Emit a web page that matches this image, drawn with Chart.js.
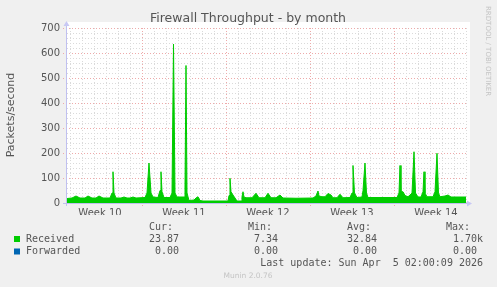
<!DOCTYPE html>
<html>
<head>
<meta charset="utf-8">
<script src="https://cdn.jsdelivr.net/npm/chart.js@4.4.1/dist/chart.umd.min.js"></script>
<style>
  html, body { margin: 0; padding: 0; background: #f0f0f0; }
  canvas { display: block; }
</style>
</head>
<body>
<canvas id="fw" width="497" height="287"></canvas>
<script>
// sample positions in days from left edge of the graph, and packets/second
const sampleDay = [0, 0.417, 0.75, 1.083, 1.5, 1.75, 2.083, 2.417, 2.667, 3, 3.583, 3.75, 3.833, 3.917, 4.083,
  4.5, 4.75, 5, 5.25, 5.5, 5.75, 6.5, 6.667, 6.833, 7, 7.167, 7.583, 7.75, 7.833, 7.917, 8.083, 8.583, 8.75,
  8.875, 9, 9.167, 9.75, 9.833, 9.917, 10, 10.167, 10.583, 10.75, 10.917, 11.083, 11.333, 13.417, 13.5, 13.583,
  13.667, 13.833, 14, 14.167, 14.5, 14.583, 14.667, 14.75, 14.917, 15.417, 15.75, 16, 16.5, 16.75, 17, 17.417,
  17.75, 18, 19.083, 20.5, 20.75, 20.917, 21, 21.25, 21.5, 21.75, 22, 22.167, 22.5, 22.75, 23, 23.583, 23.75,
  23.833, 23.958, 24.167, 24.583, 24.667, 24.833, 24.958, 25.083, 26.5, 27.5, 27.667, 27.75, 27.833, 28, 28.167,
  28.417, 28.583, 28.75, 28.917, 29.042, 29.25, 29.5, 29.667, 29.75, 29.833, 30, 30.5, 30.667, 30.833, 30.958,
  31.083, 31.5, 31.75, 32, 33.25];
const received = [18, 20, 28, 20, 20, 28, 20, 20, 28, 20, 20, 40, 125, 40, 20,
  20, 24, 20, 20, 24, 20, 22, 40, 160, 40, 24, 22, 50, 125, 45, 22, 22, 40,
  636, 40, 24, 24, 60, 550, 40, 10, 12, 20, 25, 10, 8, 8, 30, 99,
  45, 32, 20, 8, 8, 25, 45, 24, 21, 21, 39, 21, 21, 39, 21, 21,
  32, 20, 19, 20, 28, 48, 28, 25, 25, 38, 32, 21, 21, 35, 21, 22, 40,
  150, 40, 22, 24, 50, 160, 40, 22, 22, 22, 40, 150, 45, 45, 30,
  25, 32, 40, 205, 40, 24, 24, 45, 125, 40, 25, 25, 45, 199, 40,
  25, 28, 32, 24, 24];
const forwardedDay = [0, 33.25];
const forwarded = [0, 0];

const weekLabels = ['Week 10', 'Week 11', 'Week 12', 'Week 13', 'Week 14'];
const weekCenters = [2.75, 9.75, 16.75, 23.75, 30.75];
const weekStarts = [6.25, 13.25, 20.25, 27.25];
const yTicks = [0, 100, 200, 300, 400, 500, 600, 700];

const legendRows = [
  { name: 'Received', color: '#00cc00', cur: '23.87', min: '7.34', avg: '32.84', max: '1.70k' },
  { name: 'Forwarded', color: '#0066b3', cur: '0.00', min: '0.00', avg: '0.00', max: '0.00 ' }
];

const SANS = '"DejaVu Sans", Verdana, sans-serif';
const MONO = '"DejaVu Sans Mono", monospace';

// white plot background + munin style dotted grid
const gridPlugin = {
  id: 'muninGrid',
  beforeDatasetsDraw(chart) {
    const { ctx, chartArea: a, scales: { x, y } } = chart;
    ctx.save();
    ctx.lineWidth = 1;
    // minor horizontals every 20
    ctx.strokeStyle = '#dadada';
    ctx.setLineDash([1, 2]);
    for (let v = 20; v <= 700; v += 20) {
      if (v % 100 === 0) continue;
      const py = Math.round(y.getPixelForValue(v)) + 0.5;
      ctx.beginPath(); ctx.moveTo(a.left, py); ctx.lineTo(a.right, py); ctx.stroke();
    }
    // minor verticals every day
    for (let d = 0.25; d <= 33.25; d += 1) {
      const px = Math.round(x.getPixelForValue(d)) + 0.5;
      ctx.beginPath(); ctx.moveTo(px, a.top); ctx.lineTo(px, a.bottom + 2); ctx.stroke();
    }
    // major lines
    ctx.strokeStyle = '#eeaaaa';
    ctx.setLineDash([1, 2]);
    yTicks.forEach(v => {
      if (v === 0) return;
      const py = Math.round(y.getPixelForValue(v)) + 0.5;
      ctx.beginPath(); ctx.moveTo(a.left - 4, py); ctx.lineTo(a.right, py); ctx.stroke();
    });
    weekStarts.forEach(d => {
      const px = Math.round(x.getPixelForValue(d)) + 0.5;
      ctx.beginPath(); ctx.moveTo(px, a.top); ctx.lineTo(px, a.bottom + 3); ctx.stroke();
    });
    ctx.restore();
  },
  beforeDraw(chart) {
    const { ctx, chartArea: a } = chart;
    ctx.save();
    ctx.fillStyle = '#f0f0f0';
    ctx.fillRect(0, 0, chart.width, chart.height);
    ctx.fillStyle = '#ffffff';
    ctx.fillRect(a.left, a.top - 6, a.right - a.left + 4, a.bottom - a.top + 6);
    ctx.restore();
  },
  afterDraw(chart) {
    const { ctx, chartArea: a } = chart;
    ctx.save();
    // axes with arrows
    ctx.strokeStyle = '#c0c0f0';
    ctx.fillStyle = '#c8c8f4';
    ctx.lineWidth = 1;
    ctx.beginPath();
    ctx.moveTo(a.left - 4, a.bottom + 0.5); ctx.lineTo(a.right + 2, a.bottom + 0.5);
    ctx.moveTo(a.left - 0.5, a.bottom + 3); ctx.lineTo(a.left - 0.5, a.top - 2);
    ctx.stroke();
    ctx.beginPath();
    ctx.moveTo(a.right + 6, a.bottom + 0.5); ctx.lineTo(a.right + 1, a.bottom - 2.5); ctx.lineTo(a.right + 1, a.bottom + 3.5);
    ctx.closePath(); ctx.fill();
    ctx.beginPath();
    ctx.moveTo(a.left - 0.5, a.top - 7); ctx.lineTo(a.left - 3.5, a.top - 2); ctx.lineTo(a.left + 2.5, a.top - 2);
    ctx.closePath(); ctx.fill();

    // title
    ctx.fillStyle = '#555';
    ctx.font = '12.5px ' + SANS;
    ctx.textAlign = 'center';
    ctx.textBaseline = 'middle';
    ctx.fillText('Firewall Throughput - by month', 248, 19);

    // y axis title
    ctx.save();
    ctx.translate(11, 115);
    ctx.rotate(-Math.PI / 2);
    ctx.font = '11px ' + SANS;
    ctx.fillText('Packets/second', 0, 0);
    ctx.restore();

    // rrdtool credit
    ctx.save();
    ctx.translate(488, 6);
    ctx.rotate(Math.PI / 2);
    ctx.fillStyle = '#c4c4c4';
    ctx.font = '7px ' + SANS;
    ctx.textAlign = 'left';
    ctx.fillText('RRDTOOL / TOBI OETIKER', 0, 0);
    ctx.restore();

    // legend
    ctx.font = '10px ' + MONO;
    ctx.fillStyle = '#555';
    ctx.textAlign = 'right';
    ctx.textBaseline = 'middle';
    ctx.fillText('Cur:', 173, 227);
    ctx.fillText('Min:', 272, 227);
    ctx.fillText('Avg:', 371, 227);
    ctx.fillText('Max:', 470, 227);
    legendRows.forEach((r, i) => {
      const ly = 239 + i * 12.5;
      ctx.fillStyle = r.color;
      ctx.fillRect(14, ly - 3, 6, 6);
      ctx.fillStyle = '#555';
      ctx.textAlign = 'left';
      ctx.fillText(r.name, 26, ly);
      ctx.textAlign = 'right';
      ctx.fillText(r.cur, 179, ly);
      ctx.fillText(r.min, 278, ly);
      ctx.fillText(r.avg, 377, ly);
      ctx.fillText(r.max, 483, ly);
    });
    ctx.fillText('Last update: Sun Apr  5 02:00:09 2026', 483, 263);

    ctx.fillStyle = '#c4c4c4';
    ctx.font = '7.5px ' + SANS;
    ctx.textAlign = 'center';
    ctx.fillText('Munin 2.0.76', 248, 276);
    ctx.restore();
  }
};

new Chart(document.getElementById('fw'), {
  type: 'line',
  data: {
    datasets: [
      {
        label: 'Forwarded',
        data: forwardedDay.map((d, i) => ({ x: d, y: forwarded[i] })),
        borderColor: '#0066b3',
        borderWidth: 1,
        pointRadius: 0,
        fill: false,
        order: 2
      },
      {
        label: 'Received',
        data: sampleDay.map((d, i) => ({ x: d, y: received[i] })),
        borderColor: '#00cc00',
        backgroundColor: '#00cc00',
        borderWidth: 1,
        pointRadius: 0,
        tension: 0,
        fill: 'origin',
        order: 1
      }
    ]
  },
  options: {
    responsive: false,
    animation: false,
    events: [],
    layout: { padding: { top: 28, right: 31, bottom: 72, left: 0 } },
    plugins: { legend: { display: false }, tooltip: { enabled: false }, title: { display: false } },
    scales: {
      x: {
        type: 'linear',
        min: 0,
        max: 33.25,
        grid: { display: false, drawTicks: false },
        border: { display: false },
        afterBuildTicks: s => { s.ticks = weekCenters.map(v => ({ value: v })); },
        afterFit: s => { s.height = 12; },
        ticks: {
          autoSkip: false,
          maxRotation: 0,
          padding: 4,
          color: '#555',
          font: { family: SANS, size: 10 },
          callback: (v, i) => weekLabels[i]
        }
      },
      y: {
        min: 0,
        max: 700,
        grid: { display: false, drawTicks: false },
        border: { display: false },
        afterBuildTicks: s => { s.ticks = yTicks.map(v => ({ value: v })); },
        afterFit: s => { s.width = 67; },
        ticks: {
          padding: 7,
          color: '#555',
          font: { family: SANS, size: 10 }
        }
      }
    }
  },
  plugins: [gridPlugin]
});
</script>
</body>
</html>
